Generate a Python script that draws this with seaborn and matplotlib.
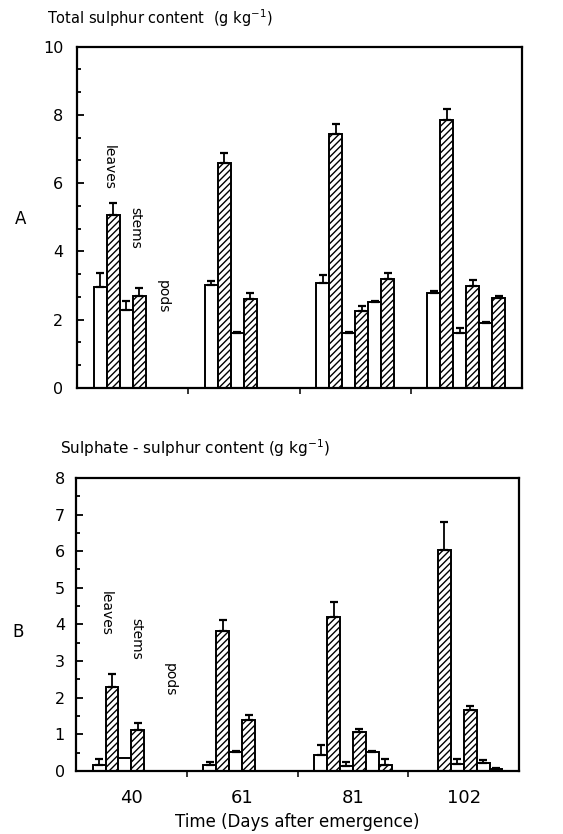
import numpy as np
import pandas as pd
import matplotlib
matplotlib.use("Agg")
import matplotlib.pyplot as plt
from matplotlib.ticker import MultipleLocator, FixedLocator
import seaborn as sns

days = ["40", "61", "81", "102"]
series = ["leaves, white", "leaves, hatched", "stems, white",
          "stems, hatched", "pods, white", "pods, hatched"]
hatched = [False, True, False, True, False, True]

# Panel A: total sulphur content (g kg-1); NaN = no bar
total_leaves_w = [2.97, 3.00, 3.07, 2.79]
total_leaves_h = [5.08, 6.58, 7.43, 7.85]
total_stems_w = [2.27, 1.60, 1.60, 1.61]
total_stems_h = [2.68, 2.61, 2.24, 2.98]
total_pods_w = [np.nan, np.nan, 2.51, 1.90]
total_pods_h = [np.nan, np.nan, 3.20, 2.64]
total_err_leaves_w = [0.40, 0.13, 0.23, 0.05]
total_err_leaves_h = [0.35, 0.30, 0.29, 0.31]
total_err_stems_w = [0.27, 0.05, 0.05, 0.14]
total_err_stems_h = [0.26, 0.17, 0.15, 0.17]
total_err_pods_w = [0.0, 0.0, 0.03, 0.03]
total_err_pods_h = [0.0, 0.0, 0.17, 0.06]

# Panel B: sulphate-sulphur content (g kg-1)
sulf_leaves_w = [0.17, 0.17, 0.43, np.nan]
sulf_leaves_h = [2.30, 3.83, 4.19, 6.04]
sulf_stems_w = [0.36, 0.52, 0.13, 0.20]
sulf_stems_h = [1.11, 1.39, 1.07, 1.66]
sulf_pods_w = [np.nan, np.nan, 0.52, 0.23]
sulf_pods_h = [np.nan, np.nan, 0.17, 0.06]
sulf_err_leaves_w = [0.17, 0.08, 0.29, 0.0]
sulf_err_leaves_h = [0.35, 0.29, 0.41, 0.75]
sulf_err_stems_w = [0.0, 0.02, 0.12, 0.14]
sulf_err_stems_h = [0.20, 0.13, 0.07, 0.12]
sulf_err_pods_w = [0.0, 0.0, 0.02, 0.06]
sulf_err_pods_h = [0.0, 0.0, 0.17, 0.02]


def make_df(vals, errs):
    rows = []
    for s, v, e in zip(series, vals, errs):
        for d, vv, ee in zip(days, v, e):
            if not np.isnan(vv):
                rows.append({"day": d, "series": s, "value": vv, "err": ee})
    return pd.DataFrame(rows)


dfA = make_df([total_leaves_w, total_leaves_h, total_stems_w, total_stems_h,
               total_pods_w, total_pods_h],
              [total_err_leaves_w, total_err_leaves_h, total_err_stems_w,
               total_err_stems_h, total_err_pods_w, total_err_pods_h])
dfB = make_df([sulf_leaves_w, sulf_leaves_h, sulf_stems_w, sulf_stems_h,
               sulf_pods_w, sulf_pods_h],
              [sulf_err_leaves_w, sulf_err_leaves_h, sulf_err_stems_w,
               sulf_err_stems_h, sulf_err_pods_w, sulf_err_pods_h])

sns.set_theme(style="white")
plt.rcParams["font.family"] = ["DejaVu Sans"]
plt.rcParams["hatch.linewidth"] = 1.0
plt.rcParams["hatch.color"] = "black"
plt.rcParams["mathtext.default"] = "regular"
plt.rcParams["text.color"] = "black"
plt.rcParams["axes.labelcolor"] = "black"

fig = plt.figure(figsize=(5.63, 8.34), dpi=100)
axA = fig.add_axes([0.137, 0.535, 0.790, 0.409])
axB = fig.add_axes([0.135, 0.0755, 0.787, 0.3515])


def draw(ax, df, ymax, minor, ypad):
    sns.barplot(data=df, x="day", y="value", hue="series", order=days,
                hue_order=series, palette=["white"] * 6, width=0.7,
                edgecolor="black", linewidth=1.4, errorbar=None,
                legend=False, ax=ax, saturation=1)
    for cont, h, s in zip(ax.containers, hatched, series):
        sub = df[df["series"] == s]
        for bar in cont:
            bar.set_edgecolor("black")
            if h:
                bar.set_hatch("/////")
            xc = bar.get_x() + bar.get_width() / 2
            ci = int(round(xc))
            row = sub[sub["day"] == days[ci]]
            if len(row) and row["err"].iloc[0] > 0:
                ax.errorbar([xc], [bar.get_height()],
                            yerr=[[0], [row["err"].iloc[0]]], fmt="none",
                            ecolor="black", elinewidth=1.3, capsize=3,
                            capthick=1.6)
    ax.set_xlim(-0.5, 3.5)
    ax.set_ylim(0, ymax)
    ax.yaxis.set_major_locator(MultipleLocator(2 if ymax == 10 else 1))
    ax.yaxis.set_minor_locator(MultipleLocator(minor))
    ax.xaxis.set_minor_locator(FixedLocator([0.5, 1.5, 2.5]))
    ax.tick_params(axis="y", which="both", direction="in", left=True,
                   labelsize=11.5, colors="black", width=1.3, pad=ypad)
    ax.tick_params(axis="y", which="major", length=5)
    ax.tick_params(axis="y", which="minor", length=3)
    ax.tick_params(axis="x", which="major", length=0, labelsize=13,
                   colors="black", pad=13)
    ax.tick_params(axis="x", which="minor", bottom=True, direction="out",
                   length=4, width=1.3)
    for sp in ax.spines.values():
        sp.set_visible(True)
        sp.set_color("black")
        sp.set_linewidth(1.6)
    ax.set_xlabel("")
    ax.set_ylabel("")


draw(axA, dfA, 10, 2 / 3, 10)
draw(axB, dfB, 8, 0.5, 8)
axA.set_xticklabels([])
axB.set_xlabel("Time (Days after emergence)", fontsize=12, labelpad=4,
               color="black")

fig.text(0.083, 0.978, "Total sulphur content  (g kg$^{-1}$)", fontsize=10.5,
         va="center", ha="left", color="black")
fig.text(0.106, 0.463, "Sulphate - sulphur content (g kg$^{-1}$)", fontsize=11,
         va="center", ha="left", color="black")
fig.text(0.036, 0.738, "A", fontsize=12, va="center", ha="center",
         color="black")
fig.text(0.032, 0.242, "B", fontsize=12, va="center", ha="center",
         color="black")

for ax, pos in [(axA, [(-0.22, 6.45), (0.02, 4.7), (0.27, 2.67)]),
                (axB, [(-0.23, 4.3), (0.04, 3.6), (0.35, 2.5)])]:
    for (x, y), t in zip(pos, ["leaves", "stems", "pods"]):
        ax.text(x, y, t, rotation=-90, fontsize=10, ha="center", va="center",
                color="black")

fig.savefig("out.png", dpi=100)
